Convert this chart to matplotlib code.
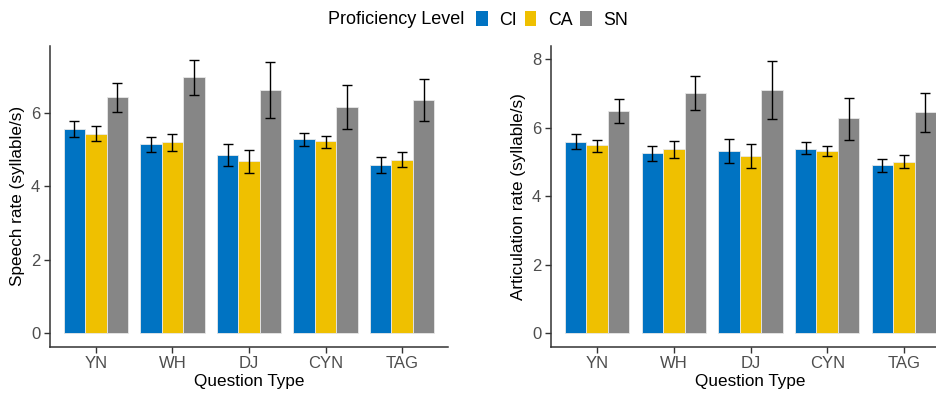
import matplotlib
matplotlib.use("Agg")
import matplotlib.pyplot as plt
from matplotlib.patches import Patch
import numpy as np

plt.rcParams['font.family'] = ['Liberation Sans', 'DejaVu Sans']

categories = ["YN", "WH", "DJ", "CYN", "TAG"]
levels = ["CI", "CA", "SN"]
colors = ["#0073C2", "#EFC000", "#868686"]

# Speech rate (syllable/s): means, lower and upper error bar ends
speech_mean = {
    "CI": [5.57, 5.14, 4.84, 5.30, 4.59],
    "CA": [5.42, 5.21, 4.68, 5.24, 4.72],
    "SN": [6.42, 6.97, 6.63, 6.15, 6.36],
}
speech_lo = {
    "CI": [5.35, 4.92, 4.55, 5.10, 4.37],
    "CA": [5.23, 4.96, 4.37, 5.04, 4.53],
    "SN": [6.02, 6.48, 5.86, 5.56, 5.77],
}
speech_hi = {
    "CI": [5.78, 5.35, 5.14, 5.46, 4.80],
    "CA": [5.63, 5.41, 4.99, 5.37, 4.92],
    "SN": [6.82, 7.45, 7.39, 6.75, 6.93],
}

# Articulation rate (syllable/s)
artic_mean = {
    "CI": [5.59, 5.26, 5.33, 5.39, 4.91],
    "CA": [5.49, 5.37, 5.17, 5.33, 5.00],
    "SN": [6.50, 7.03, 7.11, 6.28, 6.47],
}
artic_lo = {
    "CI": [5.39, 5.03, 4.96, 5.23, 4.71],
    "CA": [5.28, 5.13, 4.81, 5.17, 4.82],
    "SN": [6.14, 6.53, 6.27, 5.65, 5.88],
}
artic_hi = {
    "CI": [5.81, 5.48, 5.67, 5.59, 5.10],
    "CA": [5.65, 5.62, 5.52, 5.48, 5.19],
    "SN": [6.85, 7.50, 7.96, 6.88, 7.02],
}

W, H = 936, 396
fig = plt.figure(figsize=(W / 100, H / 100), dpi=100)

def px_axes(x0, x1, ytop, ybot):
    return fig.add_axes([x0 / W, (H - ybot) / H, (x1 - x0) / W, (ybot - ytop) / H])

ax1 = px_axes(50, 448, 46, 346.7)
ax2 = px_axes(551, 950, 46, 346.7)

tick_col = "#4D4D4D"
bw = 0.28

def draw(ax, mean, lo, hi, ylabel, yticks, ylim):
    x = np.arange(1, len(categories) + 1)
    for i, lev in enumerate(levels):
        xs = x + (i - 1) * bw
        m = np.array(mean[lev])
        l = np.array(lo[lev])
        h = np.array(hi[lev])
        ax.bar(xs, m, width=bw, color=colors[i], edgecolor="#e8e8e8",
               linewidth=0.6, zorder=2)
        ax.errorbar(xs, m, yerr=[m - l, h - m], fmt="none", ecolor="black",
                    elinewidth=1.0, capsize=3.8, capthick=1.0, zorder=3)
    ax.set_xlim(0.4, 5.6)
    ax.set_ylim(*ylim)
    ax.set_xticks(x)
    ax.set_xticklabels(categories)
    ax.set_yticks(yticks)
    for s in ["top", "right"]:
        ax.spines[s].set_visible(False)
    for s in ["left", "bottom"]:
        ax.spines[s].set_color("#333333")
        ax.spines[s].set_linewidth(1.1)
    ax.tick_params(axis="both", colors="#333333", labelcolor=tick_col,
                   labelsize=12, length=4, width=1, pad=3)
    ax.set_xlabel("Question Type", fontsize=12.3, color="black", labelpad=1.5)
    ax.set_ylabel(ylabel, fontsize=12.3, color="black", labelpad=4)

draw(ax1, speech_mean, speech_lo, speech_hi, "Speech rate (syllable/s)",
     [0, 2, 4, 6], (-0.37, 7.82))
draw(ax2, artic_mean, artic_lo, artic_hi, "Articulation rate (syllable/s)",
     [0, 2, 4, 6, 8], (-0.40, 8.39))

# Legend
fig.text(328 / W, 1 - 20 / H, "Proficiency Level", fontsize=13,
         ha="left", va="center", color="black")
handles = [Patch(facecolor=c, edgecolor="none") for c in colors]
fig.legend(handles, levels, loc="center left", bbox_to_anchor=(476 / W, 1 - 20 / H),
           ncol=3, frameon=False, fontsize=12.8, handlelength=0.65, handleheight=0.85,
           handletextpad=0.65, columnspacing=0.45, borderpad=0, borderaxespad=0)

fig.savefig("out.png", dpi=100)
